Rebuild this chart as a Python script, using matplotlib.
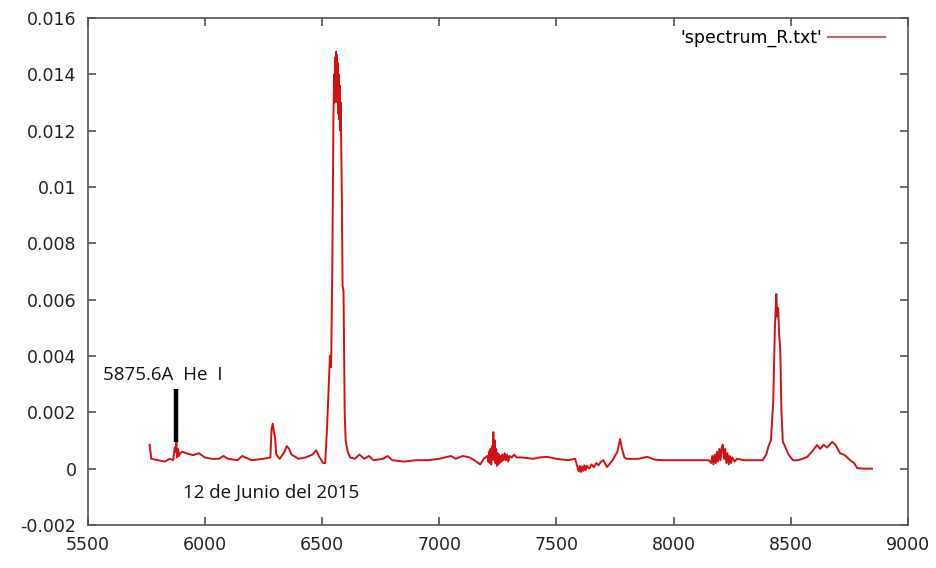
import matplotlib.pyplot as plt
from matplotlib.lines import Line2D

# wavelength (A) and flux of the red-arm spectrum
wavelength = [
    5765, 5772, 5800, 5830, 5850, 5865, 5872, 5876, 5879, 5882, 5886, 5890,
    5895, 5905, 5920, 5950, 5975, 6000, 6030, 6060, 6080, 6100, 6140, 6160,
    6200, 6250, 6280, 6285, 6290, 6295, 6300, 6305, 6320, 6340, 6350, 6360,
    6370, 6400, 6430, 6460, 6475, 6490, 6505, 6514, 6522, 6529, 6534, 6539,
    6544, 6549, 6552, 6554, 6556, 6558, 6560, 6562, 6564, 6566, 6568, 6570,
    6572, 6574, 6576, 6578, 6580, 6582, 6585, 6588, 6592, 6597, 6601, 6610,
    6620, 6640, 6660, 6680, 6700, 6720, 6760, 6780, 6800, 6850, 6900, 6950,
    7000, 7050, 7070, 7100, 7130, 7150, 7175, 7190, 7205, 7210, 7213, 7216,
    7219, 7222, 7225, 7228, 7231, 7234, 7237, 7240, 7243, 7246, 7249, 7252,
    7255, 7258, 7262, 7266, 7270, 7275, 7280, 7285, 7290, 7295, 7300, 7310,
    7320, 7330, 7350, 7400, 7430, 7460, 7500, 7550, 7580, 7590, 7595, 7600,
    7605, 7610, 7615, 7620, 7625, 7630, 7640, 7650, 7660, 7670, 7680, 7690,
    7700, 7716, 7740, 7760, 7772, 7780, 7790, 7800, 7850, 7887, 7920, 7950,
    8000, 8050, 8100, 8150, 8160, 8165, 8170, 8175, 8180, 8185, 8190, 8195,
    8200, 8205, 8210, 8215, 8220, 8225, 8230, 8235, 8240, 8245, 8250, 8260,
    8270, 8300, 8350, 8380, 8395, 8405, 8415, 8425, 8432, 8438, 8442, 8446,
    8450, 8455, 8460, 8466, 8475, 8490, 8509, 8530, 8550, 8570, 8590, 8612,
    8625, 8640, 8655, 8676, 8690, 8710, 8730, 8753, 8770, 8783, 8810, 8846,
]
flux = [
    0.00085, 0.00035, 0.00030, 0.00025, 0.00035, 0.00030, 0.00075, 0.00060,
    0.00095, 0.00040, 0.00070, 0.00045, 0.00055, 0.00060, 0.00055, 0.00048,
    0.00055, 0.00040, 0.00035, 0.00035, 0.00045, 0.00035, 0.00030, 0.00045,
    0.00030, 0.00035, 0.00040, 0.00140, 0.00160, 0.00130, 0.00110, 0.00050,
    0.00035, 0.00060, 0.00080, 0.00070, 0.00050, 0.00035, 0.00040, 0.00050,
    0.00065, 0.00040, 0.00020, 0.00020, 0.00150, 0.00300, 0.00400, 0.00360,
    0.00700, 0.01250, 0.01400, 0.01300, 0.01460, 0.01340, 0.01480, 0.01360,
    0.01470, 0.01300, 0.01440, 0.01260, 0.01400, 0.01240, 0.01360, 0.01200,
    0.01300, 0.01150, 0.00950, 0.00650, 0.00630, 0.00200, 0.00100, 0.00060,
    0.00040, 0.00035, 0.00050, 0.00035, 0.00045, 0.00030, 0.00035, 0.00045,
    0.00030, 0.00025, 0.00030, 0.00030, 0.00035, 0.00045, 0.00035, 0.00045,
    0.00040, 0.00030, 0.00015, 0.00035, 0.00045, 0.00025, 0.00060, 0.00020,
    0.00070, 0.00015, 0.00080, 0.00030, 0.00130, 0.00040, 0.00100, 0.00020,
    0.00070, 0.00010, 0.00055, 0.00015, 0.00050, 0.00020, 0.00045, 0.00025,
    0.00050, 0.00030, 0.00055, 0.00030, 0.00050, 0.00025, 0.00045, 0.00040,
    0.00050, 0.00040, 0.00040, 0.00035, 0.00040, 0.00042, 0.00035, 0.00030,
    0.00035, 0.00005, -0.00010, 0.00010, -0.00012, 0.00008, -0.00008, 0.00012,
    -0.00005, 0.00010, 0.00000, 0.00015, 0.00005, 0.00020, 0.00012, 0.00025,
    0.00030, 0.00006, 0.00030, 0.00060, 0.00105, 0.00070, 0.00040, 0.00035,
    0.00035, 0.00042, 0.00032, 0.00030, 0.00030, 0.00030, 0.00030, 0.00030,
    0.00020, 0.00045, 0.00015, 0.00050, 0.00020, 0.00060, 0.00025, 0.00070,
    0.00030, 0.00075, 0.00085, 0.00035, 0.00070, 0.00020, 0.00055, 0.00015,
    0.00045, 0.00020, 0.00040, 0.00025, 0.00035, 0.00030, 0.00030, 0.00030,
    0.00050, 0.00080, 0.00100, 0.00240, 0.00500, 0.00620, 0.00540, 0.00570,
    0.00480, 0.00420, 0.00200, 0.00095, 0.00080, 0.00050, 0.00030, 0.00030,
    0.00035, 0.00042, 0.00060, 0.00084, 0.00070, 0.00085, 0.00075, 0.00095,
    0.00085, 0.00055, 0.00048, 0.00030, 0.00020, 0.00002, 0.00000, 0.00000,
]

he_line = 5875.6
he_bar = [0.00095, 0.00283]

fig = plt.figure(figsize=(9.37, 5.68), dpi=100)
ax = fig.add_axes([0.0934, 0.0757, 0.8757, 0.8926])

ax.plot(wavelength, flux, color='#d01212', lw=1.4)
ax.vlines(he_line, he_bar[0], he_bar[1], color='black', lw=3.2)

ax.set_xlim(5500, 9000)
ax.set_ylim(-0.002, 0.016)
ax.set_xticks(range(5500, 9001, 500))
ax.set_yticks([-0.002, 0, 0.002, 0.004, 0.006, 0.008, 0.01, 0.012, 0.014, 0.016])
ax.set_yticklabels(['-0.002', '0', '0.002', '0.004', '0.006', '0.008',
                    '0.01', '0.012', '0.014', '0.016'])
ax.tick_params(direction='in', length=6, width=1.1, color='#444',
               top=True, right=True, labelsize=12.5, labelcolor='#222', pad=8)
for s in ax.spines.values():
    s.set_color('#555')
    s.set_linewidth(1.2)

ax.text(5566, 0.00333, '5875.6A  He  I', family='Open Sans', fontsize=13.5,
        va='center', ha='left', color='#111')
ax.text(5907, -0.00087, '12 de Junio del 2015', family='Open Sans',
        fontsize=13.5, va='center', ha='left', color='#111')

handle = Line2D([], [], color='#c26a6a', lw=1.6)
ax.legend([handle], ["'spectrum_R.txt'"], loc='upper right',
          bbox_to_anchor=(0.972, 0.978), frameon=False, markerfirst=False,
          borderpad=0, borderaxespad=0, handlelength=3.3, handletextpad=0.3,
          fontsize=12.5)

fig.savefig('out.png', dpi=100)
